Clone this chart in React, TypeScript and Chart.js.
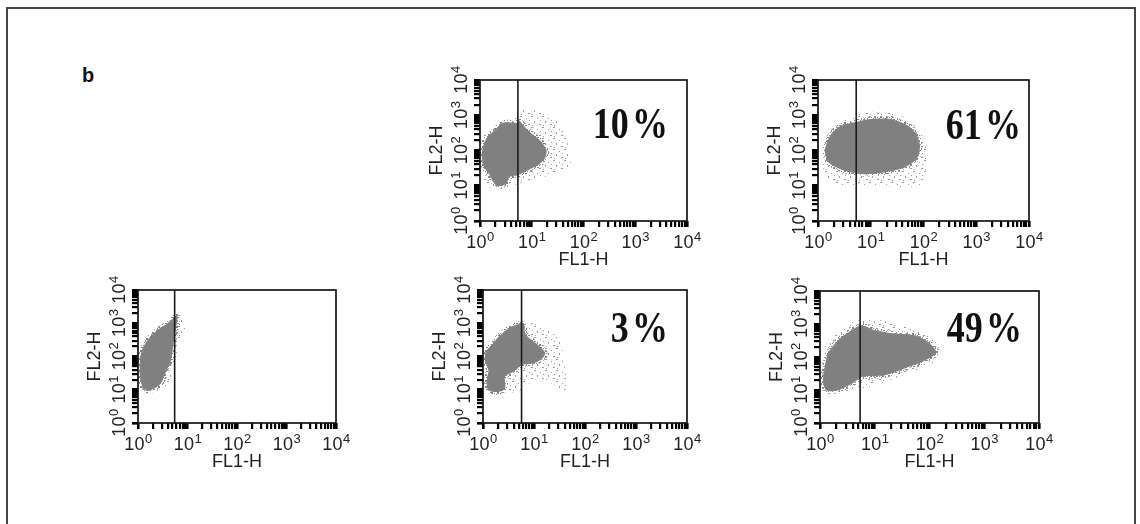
import React, { useEffect, useRef } from "react";
import { Chart, registerables } from "chart.js";
Chart.register(...registerables);

// ---------- axis / text content ----------
const decadeValues = [1, 10, 100, 1000, 10000];
const decadeExponents = ["0", "1", "2", "3", "4"];
const minorMultipliers = [1, 2, 3, 4, 5, 6, 7, 8, 9];
const xAxisTitle = "FL1-H";
const yAxisTitle = "FL2-H";
const figureLetter = "b";

// ---------- per panel values (order: top-middle, top-right, bottom-left, bottom-middle, bottom-right) ----------
const gateFL1 = [5.4, 5.3, 5.5, 5.7, 5.4];
const percentLabels = ["10%", "61%", "", "3%", "49%"];

// dense cell-population outlines (FL1-H, FL2-H)
const cloudFL1_A = [1.79, 2.79, 5.28, 5.6, 7.31, 9.86, 14.3, 19.2, 17.9, 13.3, 9.86, 7.31, 5.43, 3.75, 3.23, 2.23, 1.79, 1.54, 1.19, 1.09, 1.14, 1.33];
const cloudFL2_A = [340, 612, 612, 730, 471, 305, 197, 102, 59.3, 38.4, 30.8, 24.8, 19.9, 17.9, 11.6, 9.7, 12.9, 19.9, 34.4, 66.1, 127, 220];
const haloFL1_A = [1.1, 1.3, 3.0, 7.9, 17.8, 39.8, 58.9, 44.7, 28.2, 15.8, 7.1, 5.0, 3.0, 1.5, 1.1];
const haloFL2_A = [30, 10, 8.5, 14.1, 17.8, 28.2, 39.8, 251, 794, 1259, 1413, 1000, 700, 400, 200];

const cloudFL1_B = [1.32, 1.71, 2.64, 5.3, 9.75, 23.3, 44.7, 69.0, 85.7, 75.3, 44.7, 18.7, 7.84, 4.08, 2.42, 1.57];
const cloudFL2_B = [102, 273, 492, 640, 779, 779, 561, 333, 142, 60.6, 33.7, 24.3, 21.3, 24.3, 31.5, 46.7];
const haloFL1_B = [1.26, 1.58, 3.55, 5.62, 19.95, 50.1, 89.1, 117, 107, 79.4, 10, 2.0, 1.32];
const haloFL2_B = [79.4, 316, 794, 1175, 1202, 794, 316, 100, 20, 10, 10, 10.5, 20];

const cloudFL1_C = [1.24, 1.09, 1.15, 1.56, 2.48, 3.95, 5.4, 6.29, 5.92, 5.22, 4.63, 3.67, 2.91, 2.13, 1.56];
const cloudFL2_C = [10.9, 27.4, 126, 311, 623, 993, 1506, 1648, 784, 248, 77.6, 34.5, 15.4, 10.9, 9.2];
const haloFL1_C = [1.26, 2.0, 4.0, 5.0, 6.3, 9.3, 7.1, 5.6, 3.0, 1.3];
const haloFL2_C = [10, 8.9, 12.6, 39.8, 158, 631, 1585, 1778, 800, 200];

const cloudFL1_D = [5.58, 3.16, 2.01, 1.48, 1.13, 1.09, 1.28, 1.18, 1.28, 2.01, 2.71, 2.71, 3.95, 5.75, 9.06, 13.2, 16.5, 13.2, 9.06, 6.68, 6.5];
const cloudFL2_D = [1035, 701, 392, 220, 138, 77.6, 38.8, 19.4, 9.68, 8.6, 10.9, 24.4, 34.5, 54.9, 61.8, 77.6, 124, 195, 311, 495, 881];
const haloFL1_D = [8.26, 20.4, 35.2, 40.3, 40.3, 13.0, 5.26, 1.7, 1.08, 1.05, 2.5];
const haloFL2_D = [1084, 617, 219, 55, 9.7, 22.3, 9.7, 6.85, 8.4, 100, 600];

const cloudFL1_E = [3.74, 5.69, 10.0, 23.2, 54.0, 94.6, 134, 109, 62.1, 35.4, 15.3, 5.69, 4.31, 2.13, 1.3, 1.13, 1.22, 1.4, 2.13];
const cloudFL2_E = [644, 914, 644, 512, 455, 285, 142, 100, 63.1, 44.5, 27.9, 24.8, 17.5, 9.8, 9.8, 19.7, 49.8, 127, 321];
const haloFL1_E = [3.16, 4.47, 12.6, 39.8, 112, 158, 126, 39.8, 10, 3.16, 1.26, 1.1, 1.5];
const haloFL2_E = [891, 1259, 1318, 794, 398, 158, 70.8, 31.6, 14.1, 8.9, 8.9, 100, 400];

const cloudsFL1 = [cloudFL1_A, cloudFL1_B, cloudFL1_C, cloudFL1_D, cloudFL1_E];
const cloudsFL2 = [cloudFL2_A, cloudFL2_B, cloudFL2_C, cloudFL2_D, cloudFL2_E];
const halosFL1 = [haloFL1_A, haloFL1_B, haloFL1_C, haloFL1_D, haloFL1_E];
const halosFL2 = [haloFL2_A, haloFL2_B, haloFL2_C, haloFL2_D, haloFL2_E];

// ---------- layout (plot-box edges in page pixels, text offsets) ----------
const panelLayout = [
  { l: 480, t: 80, r: 687, b: 221, textRight: 19, textBase: 58 },
  { l: 818, t: 80, r: 1029, b: 221, textRight: 8, textBase: 59 },
  { l: 138, t: 290, r: 336, b: 423, textRight: 0, textBase: 0 },
  { l: 483, t: 290, r: 687, b: 423, textRight: 19, textBase: 52 },
  { l: 820, t: 291, r: 1039, b: 423, textRight: 17, textBase: 51 },
];
const PAD_L = 70, PAD_T = 30, PAD_R = 30, PAD_B = 70, TICK = 6;

const SANS = '"Liberation Sans", Arial, Helvetica, sans-serif';
const SERIF = '"Liberation Serif", "Times New Roman", serif';

const tickList: number[] = [];
decadeValues.slice(0, 4).forEach((d) => minorMultipliers.forEach((m) => tickList.push(d * m)));
tickList.push(decadeValues[4]);

function toPoints(xs: number[], ys: number[]) {
  const pts = xs.map((x, i) => ({ x, y: ys[i] }));
  pts.push({ x: xs[0], y: ys[0] });
  return pts;
}

function drawPow(ctx: CanvasRenderingContext2D, cx: number, base: number, exp: string) {
  ctx.font = `18px ${SANS}`;
  const wB = ctx.measureText("10").width;
  ctx.font = `13px ${SANS}`;
  const wS = ctx.measureText(exp).width;
  const start = cx - (wB + wS) / 2;
  ctx.textAlign = "left";
  ctx.textBaseline = "alphabetic";
  ctx.font = `18px ${SANS}`;
  ctx.fillText("10", start, base);
  ctx.font = `13px ${SANS}`;
  ctx.fillText(exp, start + wB + 0.5, base - 7);
}

function makeDecor(idx: number) {
  const lay = panelLayout[idx];
  return {
    id: "panelDecor" + idx,
    afterDraw(chart: any) {
      const { ctx, chartArea: a, scales } = chart;
      const xs = scales.x, ys = scales.y;
      ctx.save();
      ctx.strokeStyle = "#151515";
      ctx.lineWidth = 1.7;
      ctx.strokeRect(a.left, a.top, a.right - a.left, a.bottom - a.top);
      ctx.fillStyle = "#222";
      decadeValues.forEach((v, i) => {
        drawPow(ctx, xs.getPixelForValue(v), a.bottom + 27, decadeExponents[i]);
      });
      decadeValues.forEach((v, i) => {
        ctx.save();
        ctx.translate(a.left - 13, ys.getPixelForValue(v));
        ctx.rotate(-Math.PI / 2);
        drawPow(ctx, 0, 0, decadeExponents[i]);
        ctx.restore();
      });
      ctx.font = `18px ${SANS}`;
      ctx.textAlign = "center";
      ctx.textBaseline = "alphabetic";
      ctx.fillText(xAxisTitle, (a.left + a.right) / 2, a.bottom + 44);
      ctx.save();
      ctx.translate(a.left - 38, (a.top + a.bottom) / 2);
      ctx.rotate(-Math.PI / 2);
      ctx.fillText(yAxisTitle, 0, 0);
      ctx.restore();

      const label = percentLabels[idx];
      if (label) {
        const num = label.replace("%", "");
        ctx.font = `bold 45px ${SERIF}`;
        ctx.fillStyle = "#111";
        ctx.textAlign = "left";
        const wN = ctx.measureText(num).width;
        const wP = ctx.measureText("%").width;
        const gap = 4;
        const sx = 0.8;
        const total = (wN + gap + wP) * sx;
        ctx.save();
        ctx.translate(a.right - lay.textRight - total, a.top + lay.textBase);
        ctx.scale(sx, 1);
        ctx.fillText(num, 0, 0);
        ctx.fillText("%", wN + gap, 0);
        ctx.restore();
      }
      ctx.restore();
    },
  };
}

function makeSpeckle(ctx: CanvasRenderingContext2D, size: number, dots: number[][], color: string) {
  const tile = document.createElement("canvas");
  tile.width = size;
  tile.height = size;
  const g = tile.getContext("2d")!;
  g.fillStyle = color;
  dots.forEach(([x, y, w, h]) => g.fillRect(x, y, w, h));
  return ctx.createPattern(tile, "repeat");
}

const sparseDots = [[0, 0, 2, 1], [6, 2, 1, 1], [3, 5, 1, 2], [8, 8, 2, 1], [1, 9, 1, 1], [9, 4, 1, 1]];
const edgeDots = [[0, 0, 2, 2], [3, 1, 1, 1], [1, 3, 2, 1], [4, 4, 1, 1], [5, 2, 1, 2]];

function axisOptions() {
  return {
    type: "logarithmic" as const,
    min: decadeValues[0],
    max: decadeValues[4],
    ticks: { display: false },
    grid: {
      display: true,
      drawOnChartArea: false,
      drawTicks: true,
      tickLength: TICK,
      color: "#000",
      tickColor: "#000",
      lineWidth: (c: any) => (c.tick && c.tick.major ? 2.6 : 2.2),
      tickWidth: (c: any) => (c.tick && c.tick.major ? 2.6 : 2.2),
    },
    border: { display: false },
    afterBuildTicks: (s: any) => {
      s.ticks = tickList.map((v) => ({ value: v, major: decadeValues.includes(v) }));
    },
  };
}

function Panel({ idx }: { idx: number }) {
  const ref = useRef<HTMLCanvasElement>(null);
  const lay = panelLayout[idx];
  const w = lay.r - lay.l + PAD_L + PAD_R;
  const h = lay.b - lay.t + PAD_T + PAD_B;
  useEffect(() => {
    const canvas = ref.current!;
    const ctx = canvas.getContext("2d")!;
    const sparse = makeSpeckle(ctx, 11, sparseDots, "rgba(130,130,130,0.8)");
    const edge = makeSpeckle(ctx, 6, edgeDots, "#858585");
    const chart = new Chart(canvas, {
      type: "scatter",
      data: {
        datasets: [
          {
            data: [{ x: gateFL1[idx], y: decadeValues[0] }, { x: gateFL1[idx], y: decadeValues[4] }],
            showLine: true,
            borderColor: "#1a1a1a",
            borderWidth: 1.6,
            pointRadius: 0,
            fill: false,
            order: 0,
          },
          {
            data: toPoints(cloudsFL1[idx], cloudsFL2[idx]),
            showLine: true,
            borderColor: edge as any,
            borderWidth: 5,
            backgroundColor: "#808080",
            fill: "shape",
            tension: 0.3,
            pointRadius: 0,
            order: 1,
          },
          {
            data: toPoints(halosFL1[idx], halosFL2[idx]),
            showLine: true,
            borderColor: "rgba(0,0,0,0)",
            borderWidth: 1,
            backgroundColor: sparse as any,
            fill: "shape",
            tension: 0.3,
            pointRadius: 0,
            order: 2,
          },
        ],
      } as any,
      options: {
        responsive: false,
        maintainAspectRatio: false,
        animation: false,
        events: [],
        layout: { padding: { left: PAD_L - TICK, top: PAD_T, right: PAD_R, bottom: PAD_B - TICK } },
        plugins: { legend: { display: false }, tooltip: { enabled: false } },
        scales: { x: axisOptions(), y: axisOptions() } as any,
      },
      plugins: [makeDecor(idx)],
    });
    return () => chart.destroy();
  }, [idx]);
  return (
    <canvas
      ref={ref}
      width={w}
      height={h}
      style={{ position: "absolute", left: lay.l - PAD_L, top: lay.t - PAD_T, width: w, height: h }}
    />
  );
}

export default function App() {
  return (
    <div style={{ position: "absolute", left: 0, top: 0, width: 1140, height: 524, overflow: "hidden", background: "#fff" }}>
      <div
        style={{
          position: "absolute",
          left: 6,
          top: 7,
          width: 1130,
          height: 600,
          boxSizing: "border-box",
          borderTop: "2px solid #444",
          borderLeft: "2px solid #444",
          borderRight: "2px solid #444",
        }}
      />
      <div
        style={{
          position: "absolute",
          left: 82,
          top: 65,
          font: `bold 20px ${SANS}`,
          lineHeight: "20px",
          color: "#111",
        }}
      >
        {figureLetter}
      </div>
      {panelLayout.map((_, i) => (
        <Panel key={i} idx={i} />
      ))}
    </div>
  );
}
